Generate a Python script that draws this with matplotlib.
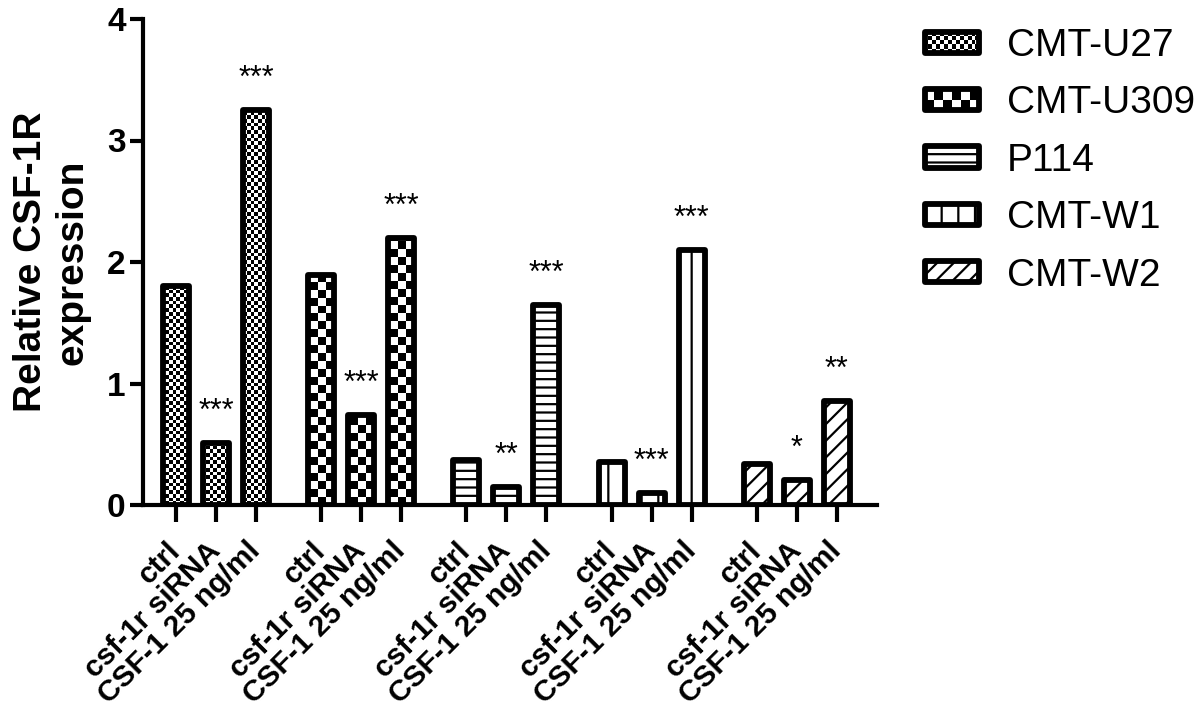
import numpy as np
import matplotlib
matplotlib.use("Agg")
import matplotlib.pyplot as plt
from matplotlib.patches import Rectangle, Patch
from matplotlib.legend_handler import HandlerBase

plt.rcParams['font.family'] = ['Liberation Sans', 'DejaVu Sans']
plt.rcParams['hatch.linewidth'] = 1.6

# ---------------- data ----------------
cell_lines = ['CMT-U27', 'CMT-U309', 'P114', 'CMT-W1', 'CMT-W2']
conditions = ['ctrl', 'csf-1r siRNA', 'CSF-1 25 ng/ml']
ctrl_vals = [1.80, 1.89, 0.37, 0.355, 0.34]
sirna_vals = [0.51, 0.74, 0.15, 0.10, 0.205]
csf1_vals = [3.25, 2.20, 1.65, 2.10, 0.86]
sirna_sig = ['***', '***', '**', '***', '*']
csf1_sig = ['***', '***', '***', '***', '**']
yticks = [0, 1, 2, 3, 4]
ylabel = 'Relative CSF-1R\nexpression'

# styles per cell line: ('checker', square px) or ('hatch', pattern)
styles = [('checker', 3.7), ('checker', 8.0), ('hatch', '--'), ('hatch', '|'), ('hatch', '//')]

group_step = 3.63
bar_w = 0.65
edge_lw = 4.2

fig = plt.figure(figsize=(12, 7.08), dpi=100)
ax_left, ax_bottom = 143 / 1200, (708 - 505) / 708
ax_w, ax_h = 734 / 1200, 486 / 708
ax = fig.add_axes([ax_left, ax_bottom, ax_w, ax_h])

xlim = (-0.825, 17.525)
ax.set_xlim(*xlim)
ax.set_ylim(0, 4)

values = [ctrl_vals, sirna_vals, csf1_vals]
sigs = [None, sirna_sig, csf1_sig]
tick_pos, tick_lab = [], []


def add_checker(bar, sq_px):
    nx = int(round(734 / sq_px))
    ny = int(round(486 / sq_px))
    arr = (np.add.outer(np.arange(ny), np.arange(nx)) % 2).astype(float)
    im = ax.imshow(arr, cmap='gray', vmin=0, vmax=1,
                   extent=(xlim[0], xlim[1], 0, 4), origin='lower',
                   aspect='auto', interpolation='nearest', zorder=2)
    im.set_clip_path(bar)


for g, line in enumerate(cell_lines):
    kind, param = styles[g]
    xs = [g * group_step + j for j in range(len(conditions))]
    hs = [values[j][g] for j in range(len(conditions))]
    if kind == 'checker':
        bars = ax.bar(xs, hs, width=bar_w, facecolor='none', edgecolor='black',
                      linewidth=edge_lw, zorder=3)
        for b in bars:
            add_checker(b, param)
    else:
        bars = ax.bar(xs, hs, width=bar_w, facecolor='white', edgecolor='black',
                      linewidth=edge_lw, hatch=param, zorder=3)
    for b in bars:
        b.set_joinstyle('round')
    for j in range(len(conditions)):
        tick_pos.append(xs[j])
        tick_lab.append(conditions[j])
        if sigs[j] is not None:
            ax.annotate(sigs[j][g], xy=(xs[j], hs[j]), xytext=(0, 16.5),
                        textcoords='offset points', ha='center', va='baseline',
                        fontsize=22, zorder=5)

ax.set_xlim(*xlim)
ax.set_ylim(0, 4)

for s in ['top', 'right']:
    ax.spines[s].set_visible(False)
for s in ['left', 'bottom']:
    ax.spines[s].set_linewidth(3)

ax.set_yticks(yticks)
ax.set_yticklabels([str(t) for t in yticks], fontsize=24, fontweight='bold')
ax.tick_params(axis='y', direction='out', length=9.5, width=3, pad=3)
ax.set_xticks(tick_pos)
ax.set_xticklabels(tick_lab, fontsize=21.5, fontweight='bold', rotation=45,
                   ha='right', va='center', rotation_mode='anchor')
ax.tick_params(axis='x', direction='out', length=12, width=3, pad=18)

ax.set_ylabel(ylabel, fontsize=28, fontweight='bold', linespacing=1.2)
ax.yaxis.set_label_coords(-0.071, 0.5)


# ---------------- legend ----------------
class CheckerHandler(HandlerBase):
    def __init__(self, ncols, nrows):
        super().__init__()
        self.ncols, self.nrows = ncols, nrows

    def create_artists(self, legend, orig_handle, xdescent, ydescent, width,
                       height, fontsize, trans):
        x0, y0 = -xdescent, -ydescent
        cw, ch = width / self.ncols, height / self.nrows
        arts = []
        for i in range(self.ncols):
            for j in range(self.nrows):
                if (i + j) % 2 == 0:
                    arts.append(Rectangle((x0 + i * cw, y0 + j * ch), cw, ch,
                                          facecolor='black', linewidth=0,
                                          transform=trans))
        border = Rectangle((x0, y0), width, height, facecolor='none',
                           edgecolor='black', linewidth=edge_lw,
                           joinstyle='round', transform=trans)
        arts.append(border)
        return arts


handles = []
handler_map = {}
for g, line in enumerate(cell_lines):
    kind, param = styles[g]
    if kind == 'checker':
        h = Patch(facecolor='white', edgecolor='black', linewidth=edge_lw, label=line)
        if param < 5:
            handler_map[h] = CheckerHandler(14, 5)
        else:
            handler_map[h] = CheckerHandler(6, 2)
    else:
        h = Patch(facecolor='white', edgecolor='black', linewidth=edge_lw,
                  hatch=param, label=line)
    handles.append(h)

leg = fig.legend(handles=handles, labels=cell_lines, handler_map=handler_map,
                 loc='upper left', bbox_to_anchor=(924.5 / 1200, 1 - 28 / 708),
                 frameon=False, fontsize=28, handlelength=1.41, handleheight=0.46,
                 handletextpad=0.7, labelspacing=0.55, borderpad=0, borderaxespad=0)
for p in leg.get_patches():
    p.set_joinstyle('round')

fig.savefig('out.png', dpi=100)
